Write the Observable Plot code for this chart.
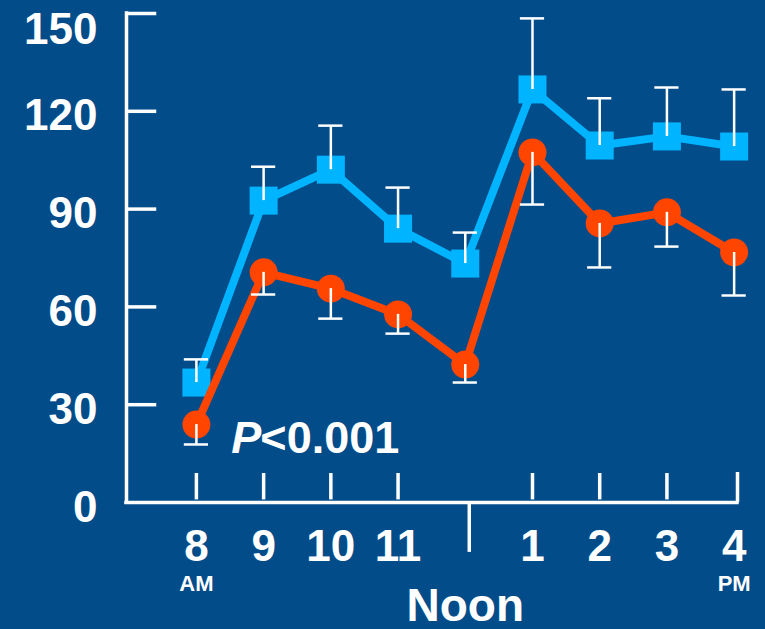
<!DOCTYPE html>
<html>
<head>
<meta charset="utf-8">
<script src="https://cdn.jsdelivr.net/npm/d3@7"></script>
<script src="https://cdn.jsdelivr.net/npm/@observablehq/plot@0.6"></script>
<style>
  html, body { margin: 0; padding: 0; background: #034c8a; }
  #chart { width: 765px; height: 629px; overflow: hidden; }
</style>
</head>
<body>
<div id="chart"></div>
<script>
// Hour slots: index 0 = 8 AM ... index 4 = Noon ... index 8 = 4 PM
const hourIndex = [0, 1, 2, 3, 4, 5, 6, 7, 8];
const hourLabels = ["8", "9", "10", "11", "", "1", "2", "3", "4"];
const tickedHours = [0, 1, 2, 3, 5, 6, 7];
const noonIndex = 4;

// Blue series (squares), mean and upper error
const blueMean = [36.8, 92.6, 102.1, 84.0, 73.3, 126.7, 109.5, 112.3, 109.2];
const blueUpper = [43.9, 103.0, 115.6, 96.6, 82.8, 148.5, 124.0, 127.3, 126.7];

// Red series (circles), mean and lower error
const redMean = [23.9, 70.6, 65.6, 57.7, 42.3, 107.4, 85.6, 89.0, 76.7];
const redLower = [17.8, 63.8, 56.4, 51.8, 36.8, 91.4, 72.1, 78.5, 63.5];

const yTicks = [0, 30, 60, 90, 120, 150];
const yTickMarks = [30, 60, 90, 120, 150];
const pText = "<0.001";

const BLUE = "#00b4ff";
const RED = "#ff4500";
const WHITE = "#ffffff";
const FONT = "'Liberation Sans', Arial, Helvetica, sans-serif";

const blue = hourIndex.map((i, k) => ({i, mean: blueMean[k], err: blueUpper[k]}));
const red = hourIndex.map((i, k) => ({i, mean: redMean[k], err: redLower[k]}));
const xLabels = hourIndex.map((i, k) => ({i, label: hourLabels[k]})).filter(d => d.label !== "");
const yMax = yTicks[yTicks.length - 1];

const X0 = -1.04, X1 = 8.05;
const capHalf = 0.18;
const labelStyle = {fontSize: 44, fontWeight: "bold", fill: WHITE};

const chart = Plot.plot({
  width: 765,
  height: 629,
  marginLeft: 126,
  marginRight: 28,
  marginTop: 13,
  marginBottom: 127,
  x: {domain: [X0, X1], axis: null},
  y: {domain: [0, 150], axis: null},
  style: {background: "transparent", color: WHITE, fontFamily: FONT, overflow: "visible"},
  marks: [
    // axes
    Plot.ruleX([X0], {y1: 0, y2: 150, stroke: WHITE, strokeWidth: 3.5, strokeLinecap: "square"}),
    Plot.ruleY([0], {x1: X0, x2: X1, stroke: WHITE, strokeWidth: 3.5, strokeLinecap: "square"}),
    Plot.ruleX([X1], {y1: 0, y2: 9.2, stroke: WHITE, strokeWidth: 3.5}),
    Plot.ruleY(yTickMarks, {x1: X0, x2: X0 + 0.45, stroke: WHITE, strokeWidth: 3.5}),
    Plot.ruleX(tickedHours, {y1: 0.8, y2: 8.9, stroke: WHITE, strokeWidth: 3.5}),
    Plot.ruleX([noonIndex], {y1: 0, y2: -15.3, stroke: WHITE, strokeWidth: 3.5, dx: 4}),
    // y labels (top label pushed down to stay inside the picture)
    Plot.text(yTicks.filter(d => d !== yMax), {x: X0, y: d => d, text: d => String(d), dx: -29, dy: 5,
      textAnchor: "end", ...labelStyle}),
    Plot.text([yMax], {x: X0, y: d => d, text: d => String(d), dx: -29, dy: 16,
      textAnchor: "end", ...labelStyle}),
    // x labels
    Plot.text(xLabels, {x: "i", y: 0, text: "label", dy: 58, lineAnchor: "bottom", ...labelStyle}),
    Plot.text([{i: 0, t: "AM"}, {i: 8, t: "PM"}], {x: "i", y: 0, text: "t", dy: 88, lineAnchor: "bottom",
      fontSize: 22, fontWeight: "bold", fill: WHITE}),
    Plot.text(["Noon"], {x: noonIndex, y: 0, text: d => d, dy: 118, lineAnchor: "bottom",
      fontSize: 46, fontWeight: "bold", fill: WHITE}),
    // series
    Plot.line(blue, {x: "i", y: "mean", stroke: BLUE, strokeWidth: 8}),
    Plot.dot(blue, {x: "i", y: "mean", symbol: "square", r: 15.8, fill: BLUE, stroke: "none"}),
    Plot.line(red, {x: "i", y: "mean", stroke: RED, strokeWidth: 8}),
    Plot.dot(red, {x: "i", y: "mean", symbol: "circle", r: 14, fill: RED, stroke: "none"}),
    // error bars
    Plot.ruleX(blue, {x: "i", y1: "mean", y2: "err", stroke: WHITE, strokeWidth: 2.5}),
    Plot.ruleY(blue, {y: "err", x1: d => d.i - capHalf, x2: d => d.i + capHalf, stroke: WHITE, strokeWidth: 2.5}),
    Plot.ruleX(red, {x: "i", y1: "mean", y2: "err", stroke: WHITE, strokeWidth: 2.5}),
    Plot.ruleY(red, {y: "err", x1: d => d.i - capHalf, x2: d => d.i + capHalf, stroke: WHITE, strokeWidth: 2.5}),
    // P value annotation
    Plot.text(["P"], {x: 0.52, y: 15.3, text: d => d, textAnchor: "start", lineAnchor: "bottom",
      fontSize: 45, fontWeight: "bold", fontStyle: "italic", fill: WHITE}),
    Plot.text([pText], {x: 0.52, y: 15.3, text: d => d, dx: 29, textAnchor: "start", lineAnchor: "bottom",
      fontSize: 45, fontWeight: "bold", fill: WHITE})
  ]
});
document.getElementById("chart").appendChild(chart);
</script>
</body>
</html>
